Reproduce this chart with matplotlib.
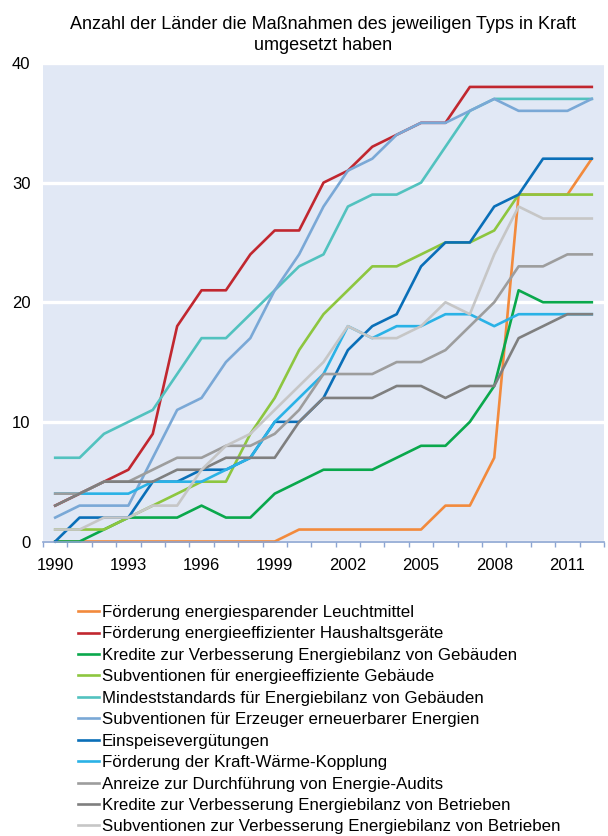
import numpy as np
import matplotlib
matplotlib.use('Agg')
import matplotlib.pyplot as plt

plt.rcParams['font.family'] = ['Liberation Sans', 'DejaVu Sans']

years = list(range(1990, 2013))

labels = [
    'Förderung energiesparender Leuchtmittel',
    'Förderung energieeffizienter Haushaltsgeräte',
    'Kredite zur Verbesserung Energiebilanz von Gebäuden',
    'Subventionen für energieeffiziente Gebäude',
    'Mindeststandards für Energiebilanz von Gebäuden',
    'Subventionen für Erzeuger erneuerbarer Energien',
    'Einspeisevergütungen',
    'Förderung der Kraft-Wärme-Kopplung',
    'Anreize zur Durchführung von Energie-Audits',
    'Kredite zur Verbesserung Energiebilanz von Betrieben',
    'Subventionen zur Verbesserung Energiebilanz von Betrieben',
]

leuchtmittel = [0, 0, 0, 0, 0, 0, 0, 0, 0, 0, 1, 1, 1, 1, 1, 1, 3, 3, 7, 29, 29, 29, 32]
haushalt = [3, 4, 5, 6, 9, 18, 21, 21, 24, 26, 26, 30, 31, 33, 34, 35, 35, 38, 38, 38, 38, 38, 38]
kredite_geb = [0, 0, 1, 2, 2, 2, 3, 2, 2, 4, 5, 6, 6, 6, 7, 8, 8, 10, 13, 21, 20, 20, 20]
subv_geb = [1, 1, 1, 2, 3, 4, 5, 5, 9, 12, 16, 19, 21, 23, 23, 24, 25, 25, 26, 29, 29, 29, 29]
mindest = [7, 7, 9, 10, 11, 14, 17, 17, 19, 21, 23, 24, 28, 29, 29, 30, 33, 36, 37, 37, 37, 37, 37]
erneuerbar = [2, 3, 3, 3, 7, 11, 12, 15, 17, 21, 24, 28, 31, 32, 34, 35, 35, 36, 37, 36, 36, 36, 37]
einspeise = [0, 2, 2, 2, 5, 5, 6, 6, 7, 10, 10, 12, 16, 18, 19, 23, 25, 25, 28, 29, 32, 32, 32]
kwk = [4, 4, 4, 4, 5, 5, 5, 6, 7, 10, 12, 14, 18, 17, 18, 18, 19, 19, 18, 19, 19, 19, 19]
audits = [4, 4, 5, 5, 6, 7, 7, 8, 8, 9, 11, 14, 14, 14, 15, 15, 16, 18, 20, 23, 23, 24, 24]
kredite_betr = [3, 4, 5, 5, 5, 6, 6, 7, 7, 7, 10, 12, 12, 12, 13, 13, 12, 13, 13, 17, 18, 19, 19]
subv_betr = [1, 1, 2, 2, 3, 3, 6, 8, 9, 11, 13, 15, 18, 17, 17, 18, 20, 19, 24, 28, 27, 27, 27]

series = [leuchtmittel, haushalt, kredite_geb, subv_geb, mindest, erneuerbar,
          einspeise, kwk, audits, kredite_betr, subv_betr]
colors = ['#f28a3c', '#c1272f', '#0aa84c', '#8dc63f', '#52c2bf', '#7aa8d6',
          '#0a6fb8', '#2ab2e6', '#9d9d9d', '#7f7f7f', '#c6c6c6']

axis_col = '#8ca5d2'

fig = plt.figure(figsize=(6.08, 8.36), dpi=100)
ax = fig.add_axes([43 / 608, 1 - 541.5 / 836, (604 - 43) / 608, (541.5 - 63) / 836])

x = np.arange(len(years))
for vals, c, lab in zip(series, colors, labels):
    ax.plot(x, vals, color=c, lw=1.9, label=lab, clip_on=False)

ax.set_xlim(-0.5, len(years) - 0.5)
ax.set_ylim(0, 40)
ax.set_facecolor('#e1e8f5')
ax.set_yticks([0, 10, 20, 30, 40])
ax.yaxis.grid(True, color='white', lw=2.4)
ax.set_axisbelow(True)
for s in ['left', 'top', 'right']:
    ax.spines[s].set_visible(False)
ax.spines['bottom'].set_color(axis_col)
ax.spines['bottom'].set_linewidth(1.2)

ax.set_xticks(x[::3])
ax.set_xticklabels([str(y) for y in years[::3]])
ax.set_xticks(np.arange(-0.5, len(years)), minor=True)
ax.tick_params(axis='x', which='major', length=0, pad=12, labelsize=12)
ax.tick_params(axis='x', which='minor', length=3.5, width=1, color=axis_col)
ax.tick_params(axis='y', length=0, pad=9, labelsize=12)

ax.set_title('Anzahl der Länder die Maßnahmen des jeweiligen Typs in Kraft\numgesetzt haben',
             fontsize=13, pad=9.5, linespacing=1.3)

# last entry runs off the bottom edge, as in the original
fig.legend(loc='upper left', bbox_to_anchor=(78 / 608, 1 - 605 / 836), frameon=False,
           fontsize=12.2, handlelength=1.25, handletextpad=0.15, labelspacing=0.38,
           borderaxespad=0, borderpad=0)

fig.savefig('out.png', dpi=100)
